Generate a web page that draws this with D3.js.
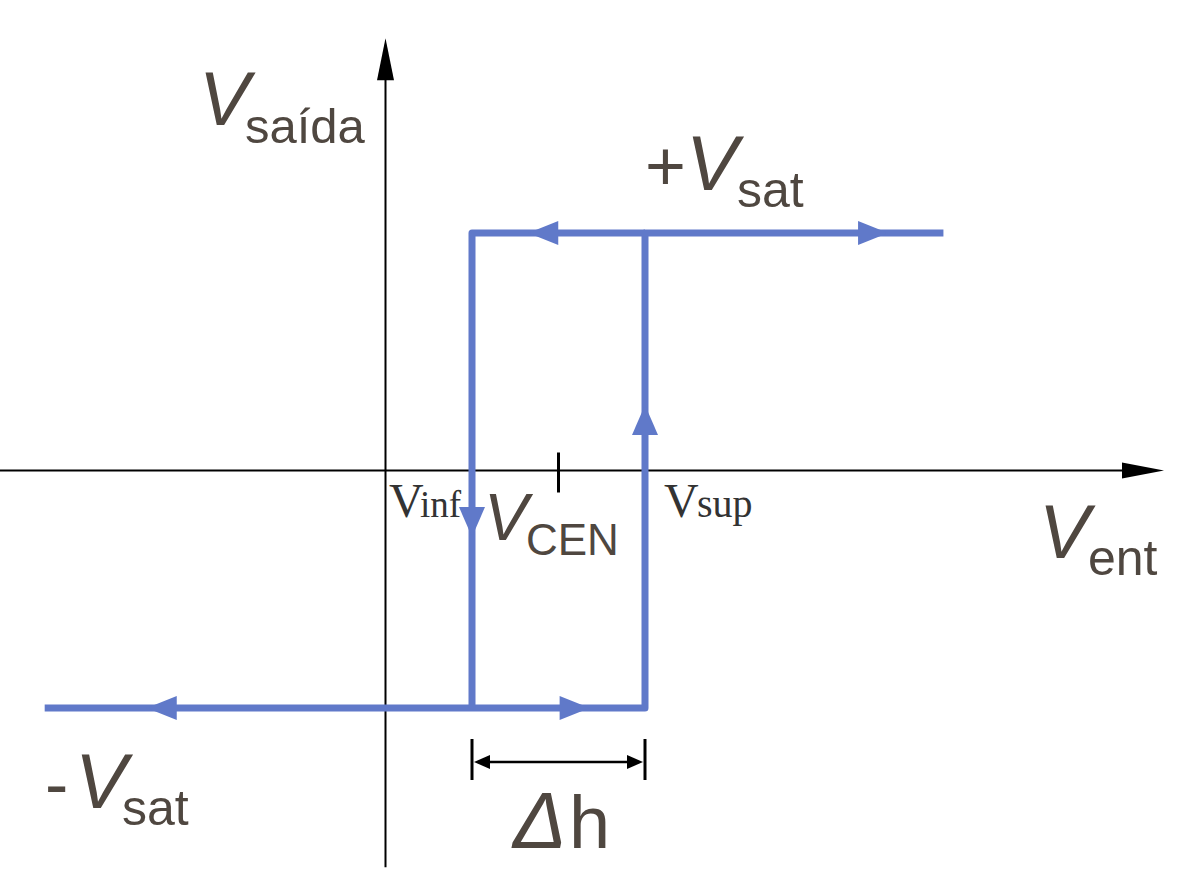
<!DOCTYPE html>
<html><head><meta charset="utf-8">
<script src="https://cdn.jsdelivr.net/npm/d3@7"></script>
<style>html,body{margin:0;padding:0;background:#fff;overflow:hidden}</style>
</head><body>
<svg id="chart" width="1188" height="881"></svg>
<script>
// ---- data (normalised units) ----
const vSat = 1;                 // saturation level
const vInf = 1, vSup = 3;       // thresholds
const vCen = (vInf + vSup) / 2; // centre tick
const xLeftEnd = -3.94, xRightEnd = 6.45;
const loopPoints = [            // bottom branch then up, top branch then down
  [xLeftEnd, -vSat], [vSup, -vSat], [vSup, vSat], [xRightEnd, vSat]
];
const innerPoints = [[vSup, vSat], [vInf, vSat], [vInf, -vSat]];
const arrowsH = [ {x: -2.76, y: -vSat, dir: -1}, {x: 2.36, y: -vSat, dir: 1},
                  {x: 1.65, y: vSat, dir: -1},  {x: 5.81, y: vSat, dir: 1} ];
const arrowsV = [ {x: vInf, y: -0.28, dir: -1}, {x: vSup, y: 0.276, dir: 1} ];
const axisLabels = {y: ["V", "saída"], x: ["V", "ent"]};
const levelLabels = {top: ["+", "V", "sat"], bottom: ["-", "V", "sat"]};
const threshLabels = {inf: ["V", "inf"], sup: ["V", "sup"], cen: ["V", "CEN"], width: ["Δ", "h"]};

// ---- scales ----
const x = d3.scaleLinear().domain([-4, 9]).range([39.5, 1164]);
const y = d3.scaleLinear().domain([-1, 1]).range([708, 233]);
const svg = d3.select("#chart");
const blue = "#6079c9", txt = "#4f4740";

// ---- axes ----
const yAxisTop = 1.82, yAxisBot = -1.67;
svg.append("line").attr("x1", 0).attr("x2", x(9) - 38).attr("y1", y(0)).attr("y2", y(0))
  .attr("stroke", "#000").attr("stroke-width", 2);
svg.append("path").attr("d", `M${x(9)},${y(0)} L${x(9)-42},${y(0)-8} L${x(9)-42},${y(0)+8}Z`).attr("fill", "#000");
svg.append("line").attr("x1", x(0)).attr("x2", x(0)).attr("y1", y(yAxisBot)).attr("y2", y(yAxisTop) + 38)
  .attr("stroke", "#000").attr("stroke-width", 2);
svg.append("path").attr("d", `M${x(0)},${y(yAxisTop)} L${x(0)-8.5},${y(yAxisTop)+42} L${x(0)+8.5},${y(yAxisTop)+42}Z`).attr("fill", "#000");
// centre tick
svg.append("line").attr("x1", x(vCen)).attr("x2", x(vCen)).attr("y1", y(0) - 18).attr("y2", y(0) + 22)
  .attr("stroke", "#000").attr("stroke-width", 3);

// ---- loop ----
const line = d3.line().x(d => x(d[0])).y(d => y(d[1]));
svg.append("path").attr("d", line(loopPoints)).attr("fill", "none").attr("stroke", blue)
  .attr("stroke-width", 7).attr("stroke-linejoin", "round");
svg.append("path").attr("d", line(innerPoints)).attr("fill", "none").attr("stroke", blue)
  .attr("stroke-width", 7).attr("stroke-linejoin", "round");
arrowsH.forEach(a => {
  const tx = x(a.x), ty = y(a.y), L = 30, W = 12;
  svg.append("path").attr("d", `M${tx},${ty} L${tx - a.dir*L},${ty-W} L${tx - a.dir*L},${ty+W}Z`).attr("fill", blue);
});
arrowsV.forEach(a => {
  const tx = x(a.x), ty = y(a.y), L = 30, W = 13;
  svg.append("path").attr("d", `M${tx},${ty} L${tx-W},${ty + a.dir*L} L${tx+W},${ty + a.dir*L}Z`).attr("fill", blue);
});

// ---- hysteresis width dimension ----
const dimY = 762;
svg.append("line").attr("x1", x(vInf)+12).attr("x2", x(vSup)-12).attr("y1", dimY).attr("y2", dimY)
  .attr("stroke", "#000").attr("stroke-width", 2.5);
[vInf, vSup].forEach((v, i) => {
  svg.append("line").attr("x1", x(v)).attr("x2", x(v)).attr("y1", dimY - 23).attr("y2", dimY + 18)
    .attr("stroke", "#000").attr("stroke-width", 3);
  const d = i === 0 ? 1 : -1, tx = x(v) + d*2;
  svg.append("path").attr("d", `M${tx},${dimY} L${tx + d*16},${dimY-7} L${tx + d*16},${dimY+7}Z`).attr("fill", "#000");
});

// ---- labels ----
const sans = "Liberation Sans, Arial, sans-serif", serif = "Liberation Serif, Times New Roman, serif";
function lab(parts) {
  parts.forEach(p => {
    svg.append("text").attr("x", p.x).attr("y", p.y).text(p.t)
      .attr("font-family", p.f || sans).attr("font-size", p.s)
      .attr("font-weight", p.w || "normal")
      .attr("font-style", p.i ? "italic" : "normal").attr("fill", p.c || txt);
  });
}
lab([{t: axisLabels.y[0], x: 199, y: 125, s: 76, i: true},
     {t: axisLabels.y[1], x: 245, y: 143, s: 49}]);
lab([{t: levelLabels.top[0], x: 645, y: 190, s: 70},
     {t: levelLabels.top[1], x: 686, y: 190, s: 78, i: true},
     {t: levelLabels.top[2], x: 737, y: 207, s: 50}]);
lab([{t: axisLabels.x[0], x: 1039, y: 558, s: 76, i: true},
     {t: axisLabels.x[1], x: 1088, y: 575, s: 50}]);
lab([{t: levelLabels.bottom[0], x: 45, y: 808, s: 70},
     {t: levelLabels.bottom[1], x: 75, y: 808, s: 78, i: true},
     {t: levelLabels.bottom[2], x: 122, y: 825, s: 50}]);
lab([{t: threshLabels.width[0], x: 513, y: 848, s: 80, i: true},
     {t: threshLabels.width[1], x: 569, y: 848, s: 74}]);
lab([{t: threshLabels.cen[0], x: 484, y: 540, s: 66, i: true},
     {t: threshLabels.cen[1], x: 526, y: 555, s: 44}]);
lab([{t: threshLabels.inf[0], x: 389, y: 517, s: 48, f: serif, c: "#333"},
     {t: threshLabels.inf[1], x: 420, y: 517, s: 37, f: serif, c: "#333"}]);
lab([{t: threshLabels.sup[0], x: 664, y: 517, s: 48, f: serif, c: "#333"},
     {t: threshLabels.sup[1], x: 697, y: 517, s: 40, f: serif, c: "#333"}]);
</script>
</body></html>
